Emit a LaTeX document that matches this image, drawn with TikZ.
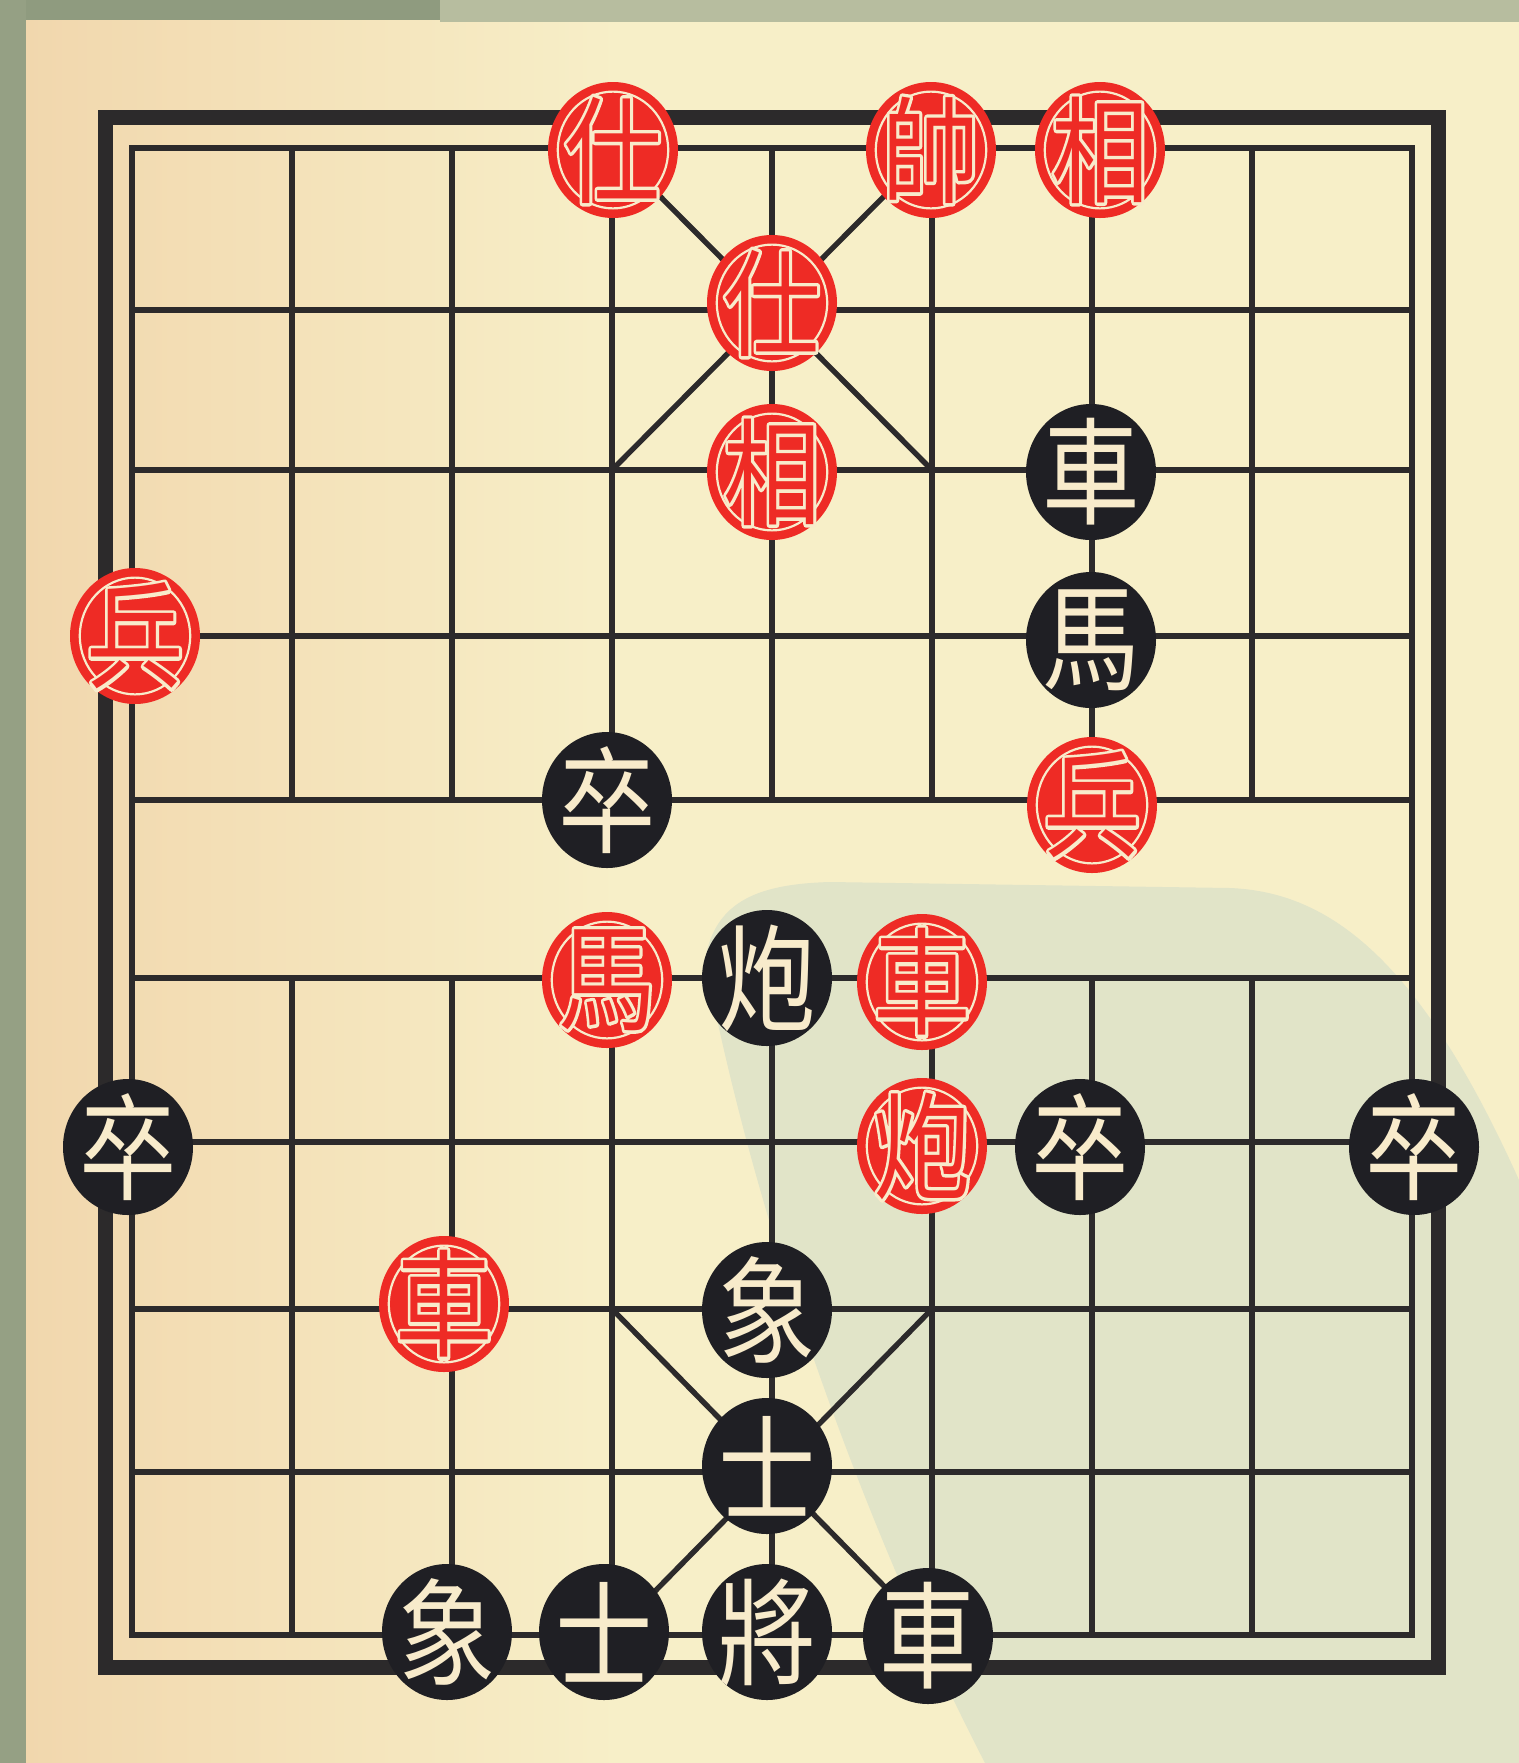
\documentclass[tikz,border=0pt]{standalone}
\usepackage{fontspec}
\usepackage{graphicx}
\usetikzlibrary{shapes.geometric}
\newfontfamily\cjkfam{Noto Sans CJK TC}
\definecolor{paperA}{HTML}{F1D6AC}
\definecolor{paperB}{HTML}{F7EFC8}
\definecolor{bandA}{HTML}{8F9B7F}
\definecolor{bandB}{HTML}{B7BD9F}
\definecolor{inkline}{HTML}{2C2A2B}
\definecolor{redp}{HTML}{EE2B25}
\definecolor{blackp}{HTML}{1F1F24}
\definecolor{cream}{HTML}{F8EBCB}
\definecolor{wmark}{HTML}{E1E4C8}

% red glyph with a cream outline: a stroked-only copy behind, the normal glyph on top
\newcommand{\outlinedchar}[1]{%
  \leavevmode
  \rlap{\special{pdf:literal direct 0.973 0.922 0.796 RG 1 Tr 3.4 w 1 j}#1\special{pdf:literal direct 0 Tr}}%
  #1}

\tikzset{
  gridline/.style={draw=inkline, line width=2.7pt},
  borderline/.style={draw=inkline, line width=7.5pt},
  rp/.style={ellipse, fill=redp, minimum width=65pt, minimum height=68pt, inner sep=0pt,
    path picture={\draw[cream, line width=1.1pt] (path picture bounding box.center) ellipse (27.6pt and 29.2pt);}},
  bp/.style={ellipse, fill=blackp, minimum width=65pt, minimum height=68pt, inner sep=0pt},
  rt/.style={inner sep=0pt, text=redp, font=\cjkfam\fontsize{58pt}{58pt}\selectfont},
  bt/.style={inner sep=0pt, text=cream, font=\cjkfam\fontsize{58pt}{58pt}\selectfont},
}

\newcommand{\redpiece}[4]{%
  \node[rp] (#1) at (#2,#3) {};
  \node[rt] (#1t) at (#1.center) {\scalebox{0.84}[1]{\outlinedchar{#4}}};
}
\newcommand{\blackpiece}[4]{%
  \node[bp] (#1) at (#2,#3) {};
  \node[bt] (#1t) at (#1.center) {\scalebox{0.84}[1]{#4}};
}

\begin{document}
\begin{tikzpicture}[x=0.5pt,y=-0.5pt]
\useasboundingbox (0,0) rectangle (1519,1763);
% paper
\fill[paperB] (0,0) rectangle (1519,1763);
\shade[left color=paperA, right color=paperB] (0,0) rectangle (620,1763);
% bands
\fill[bandA] (0,0) rectangle (440,20);
\fill[bandB] (440,0) rectangle (1519,22);
\fill[bandA!85!bandB] (0,0) rectangle (26,1763);
% watermark blob
\fill[wmark] (705,960) .. controls (715,900) and (760,884) .. (830,882)
  -- (1230,888) .. controls (1330,892) and (1420,960) .. (1519,1180)
  -- (1519,1763) -- (985,1763) .. controls (880,1560) and (760,1250) .. (705,960) -- cycle;

% grid
\draw[gridline] (132,148) rectangle (1412,1635);
\foreach \r in {310,470,636,800,978,1142,1309,1472}
  \draw[gridline] (132,\r) -- (1412,\r);
\foreach \c in {292,452,612,772,932,1092,1252} {
  \draw[gridline] (\c,148) -- (\c,800);
  \draw[gridline] (\c,978) -- (\c,1635);
}
% palaces
\draw[gridline] (612,148) -- (932,470);
\draw[gridline] (932,148) -- (612,470);
\draw[gridline] (612,1309) -- (932,1635);
\draw[gridline] (932,1309) -- (612,1635);
% outer border
\draw[borderline] (105,117) rectangle (1438,1667);

% red pieces
\redpiece{rA}{613}{150}{仕}
\redpiece{rK}{931}{150}{帥}
\redpiece{rEa}{1100}{150}{相}
\redpiece{rAb}{772}{303}{仕}
\redpiece{rEb}{772}{472}{相}
\redpiece{rPa}{135}{636}{兵}
\redpiece{rPb}{1092}{805}{兵}
\redpiece{rH}{607}{980}{馬}
\redpiece{rRa}{922}{982}{車}
\redpiece{rC}{922}{1146}{炮}
\redpiece{rRb}{444}{1304}{車}

% black pieces
\blackpiece{bRa}{1091}{472}{車}
\blackpiece{bH}{1091}{640}{馬}
\blackpiece{bPa}{607}{800}{卒}
\blackpiece{bC}{767}{978}{炮}
\blackpiece{bPb}{128}{1147}{卒}
\blackpiece{bPc}{1080}{1147}{卒}
\blackpiece{bPd}{1414}{1147}{卒}
\blackpiece{bEa}{767}{1310}{象}
\blackpiece{bAa}{767}{1466}{士}
\blackpiece{bEb}{447}{1632}{象}
\blackpiece{bAb}{604}{1632}{士}
\blackpiece{bK}{767}{1632}{將}
\blackpiece{bRb}{928}{1636}{車}
\end{tikzpicture}
\end{document}
